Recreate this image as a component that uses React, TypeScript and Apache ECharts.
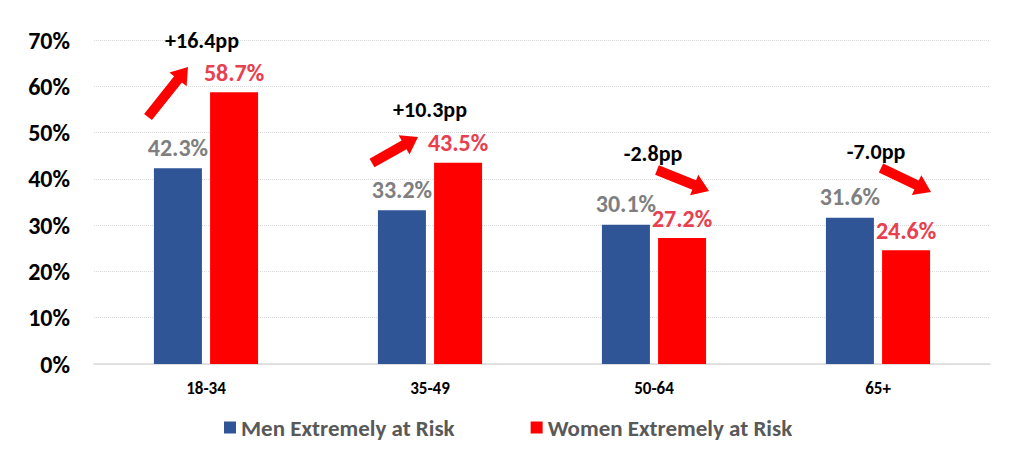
import React, { useEffect, useRef } from "react";
import * as echarts from "echarts";

const categories = ["18-34", "35-49", "50-64", "65+"];
const menValues = [42.3, 33.2, 30.1, 31.6];
const womenValues = [58.7, 43.5, 27.2, 24.6];
const seriesNames = ["Men Extremely at Risk", "Women Extremely at Risk"];
const changeLabels = ["+16.4pp", "+10.3pp", "-2.8pp", "-7.0pp"];

// annotation layout (pixels): text centre, arrow tail, arrow tip
const annotationLayout = [
  { tx: 202, ty: 40, x1: 148, y1: 117, x2: 188, y2: 67 },
  { tx: 430, ty: 109, x1: 372, y1: 163, x2: 418, y2: 137 },
  { tx: 653, ty: 153, x1: 657, y1: 170, x2: 709, y2: 191 },
  { tx: 876, ty: 151, x1: 881, y1: 168, x2: 931, y2: 192 },
];

const FONT = "Carlito, 'Liberation Sans Narrow', 'DejaVu Sans Condensed', sans-serif";

function arrowPoints(x1: number, y1: number, x2: number, y2: number) {
  const shaft = 10, headW = 22, headL = 16;
  const dx = x2 - x1, dy = y2 - y1;
  const len = Math.sqrt(dx * dx + dy * dy);
  const ux = dx / len, uy = dy / len;
  const nx = -uy, ny = ux;
  const bx = x2 - ux * headL, by = y2 - uy * headL;
  return [
    [x1 + nx * shaft / 2, y1 + ny * shaft / 2],
    [bx + nx * shaft / 2, by + ny * shaft / 2],
    [bx + nx * headW / 2, by + ny * headW / 2],
    [x2, y2],
    [bx - nx * headW / 2, by - ny * headW / 2],
    [bx - nx * shaft / 2, by - ny * shaft / 2],
    [x1 - nx * shaft / 2, y1 - ny * shaft / 2],
  ];
}

export default function App() {
  const ref = useRef<HTMLDivElement>(null);
  useEffect(() => {
    document.body.style.margin = "0";
    const chart = echarts.init(ref.current!, null, { renderer: "svg" });
    const graphics: any[] = [];
    annotationLayout.forEach((a, i) => {
      graphics.push({
        type: "polygon",
        shape: { points: arrowPoints(a.x1, a.y1, a.x2, a.y2) },
        style: { fill: "#FF0000" },
        z: 10,
      });
      graphics.push({
        type: "text",
        x: a.tx,
        y: a.ty,
        style: {
          text: changeLabels[i],
          fill: "#000000",
          font: `bold 22px ${FONT}`,
          textAlign: "center",
          textVerticalAlign: "middle",
        },
        z: 10,
      });
    });
    chart.setOption({
      animation: false,
      grid: { left: 94, right: 20, top: 40, bottom: 87, containLabel: false },
      legend: {
        top: 416,
        left: 224,
        padding: 0,
        icon: "rect",
        itemWidth: 12,
        itemHeight: 12,
        itemGap: 76,
        textStyle: { fontFamily: FONT, fontWeight: "bold", fontSize: 23, color: "#595959" },
        data: seriesNames,
      },
      xAxis: {
        type: "category",
        data: categories,
        axisLine: { lineStyle: { color: "#D9D9D9", width: 1.5 } },
        axisTick: { show: false },
        axisLabel: { fontFamily: FONT, fontWeight: "bold", fontSize: 17, color: "#000", margin: 16 },
      },
      yAxis: {
        type: "value",
        min: 0,
        max: 70,
        interval: 10,
        axisLine: { show: false },
        axisTick: { show: false },
        splitLine: { lineStyle: { color: "#D9D9D9", type: "dotted" } },
        axisLabel: { formatter: "{value}%", fontFamily: FONT, fontWeight: "bold", fontSize: 24, color: "#000", margin: 24 },
      },
      series: [
        {
          name: seriesNames[0],
          type: "bar",
          data: menValues,
          barWidth: 48,
          barGap: "17%",
          itemStyle: { color: "#2F5597" },
          label: {
            show: true,
            position: "top",
            distance: 9,
            formatter: (p: any) => p.value.toFixed(1) + "%",
            fontFamily: FONT,
            fontWeight: "bold",
            fontSize: 24,
            color: "#7F7F7F",
          },
        },
        {
          name: seriesNames[1],
          type: "bar",
          data: womenValues,
          barWidth: 48,
          itemStyle: { color: "#FF0000" },
          label: {
            show: true,
            position: "top",
            distance: 8,
            formatter: (p: any) => p.value.toFixed(1) + "%",
            fontFamily: FONT,
            fontWeight: "bold",
            fontSize: 24,
            color: "#E8404F",
          },
        },
      ],
      graphic: graphics,
    });
    return () => chart.dispose();
  }, []);
  return <div ref={ref} style={{ width: 1010, height: 451 }} />;
}
